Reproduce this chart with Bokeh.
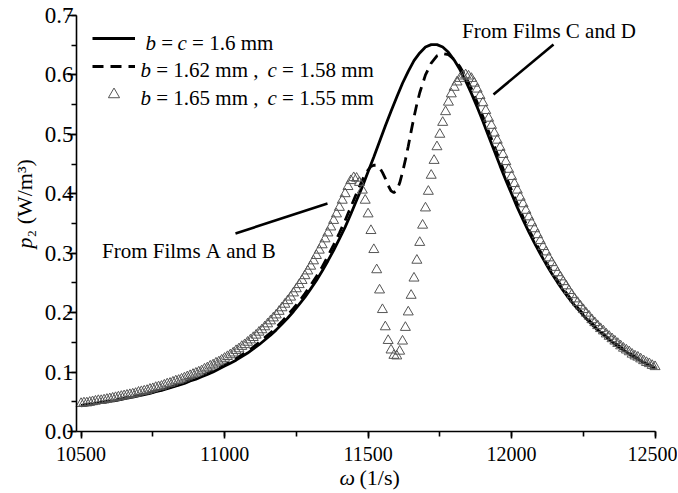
import math
from bokeh.plotting import figure
from bokeh.models import (Label, Legend, LegendItem, SingleIntervalTicker,
                          PrintfTickFormatter, Range1d)
from bokeh.embed import file_html
from bokeh.resources import INLINE

# ---------------- data ----------------
omega_solid = list(range(10500, 12501, 20))
p_solid = [
    0.043, 0.045, 0.046, 0.048, 0.049, 0.051, 0.052, 0.054, 0.056, 0.058,
    0.060, 0.062, 0.064, 0.067, 0.069, 0.072, 0.075, 0.078, 0.081, 0.085,
    0.088, 0.092, 0.096, 0.100, 0.105, 0.110, 0.115, 0.120, 0.126, 0.132,
    0.139, 0.146, 0.154, 0.162, 0.171, 0.181, 0.191, 0.202, 0.214, 0.226,
    0.240, 0.254, 0.270, 0.287, 0.305, 0.324, 0.344, 0.366, 0.389, 0.412,
    0.437, 0.462, 0.488, 0.514, 0.539, 0.563, 0.586, 0.606, 0.624, 0.637,
    0.647, 0.651, 0.651, 0.647, 0.638, 0.625, 0.609, 0.590, 0.569, 0.546,
    0.522, 0.497, 0.472, 0.447, 0.423, 0.400, 0.377, 0.356, 0.336, 0.317,
    0.299, 0.282, 0.266, 0.251, 0.237, 0.224, 0.212, 0.201, 0.190, 0.180,
    0.171, 0.163, 0.155, 0.147, 0.140, 0.134, 0.127, 0.122, 0.116, 0.111,
    0.106,
]

omega_dash = (list(range(10500, 11480, 20)) + list(range(11480, 11680, 10))
              + list(range(11680, 12501, 20)))
p_dash = [
    0.044, 0.045, 0.047, 0.048, 0.050, 0.051, 0.053, 0.055, 0.057, 0.059,
    0.061, 0.063, 0.065, 0.068, 0.070, 0.073, 0.076, 0.079, 0.083, 0.086,
    0.090, 0.094, 0.098, 0.102, 0.107, 0.112, 0.117, 0.123, 0.129, 0.135,
    0.142, 0.150, 0.158, 0.166, 0.175, 0.185, 0.196, 0.207, 0.219, 0.232,
    0.246, 0.261, 0.277, 0.295, 0.314, 0.334, 0.355, 0.378, 0.401,
    0.423, 0.433, 0.440, 0.446, 0.448, 0.448, 0.444, 0.436, 0.426, 0.414,
    0.405, 0.402, 0.406, 0.418, 0.436, 0.457, 0.480, 0.505, 0.529, 0.551,
    0.570, 0.600, 0.620, 0.632, 0.636, 0.634, 0.626, 0.614, 0.597, 0.577,
    0.554, 0.530, 0.505, 0.480, 0.455, 0.430, 0.406, 0.383, 0.361, 0.340,
    0.321, 0.303, 0.285, 0.269, 0.254, 0.240, 0.227, 0.214, 0.203, 0.192,
    0.182, 0.173, 0.164, 0.156, 0.149, 0.142, 0.135, 0.129, 0.123, 0.117,
    0.112, 0.107,
]

omega_tri = list(range(10500, 12501, 10))
p_tri = [
    0.047, 0.048, 0.048, 0.049, 0.050, 0.051, 0.052, 0.052, 0.053, 0.054,
    0.055, 0.056, 0.057, 0.058, 0.059, 0.060, 0.061, 0.062, 0.063, 0.064,
    0.066, 0.067, 0.068, 0.069, 0.071, 0.072, 0.074, 0.075, 0.076, 0.078,
    0.080, 0.081, 0.083, 0.085, 0.086, 0.088, 0.090, 0.092, 0.094, 0.096,
    0.098, 0.100, 0.102, 0.105, 0.107, 0.110, 0.112, 0.115, 0.117, 0.120,
    0.123, 0.126, 0.129, 0.132, 0.136, 0.139, 0.143, 0.146, 0.150, 0.154,
    0.158, 0.162, 0.167, 0.171, 0.176, 0.181, 0.186, 0.191, 0.196, 0.202,
    0.208, 0.214, 0.220, 0.226, 0.233, 0.240, 0.247, 0.254, 0.262, 0.270,
    0.278, 0.287, 0.296, 0.305, 0.314, 0.324, 0.334, 0.344, 0.355, 0.366,
    0.377, 0.389, 0.400, 0.412, 0.422, 0.427, 0.426, 0.419, 0.406, 0.389,
    0.366, 0.338, 0.306, 0.272, 0.238, 0.205, 0.176, 0.153, 0.137, 0.128,
    0.127, 0.135, 0.152, 0.175, 0.201, 0.229, 0.258, 0.288, 0.318, 0.347,
    0.376, 0.404, 0.431, 0.456, 0.479, 0.500, 0.520, 0.538, 0.554, 0.568,
    0.579, 0.588, 0.594, 0.598, 0.600, 0.598, 0.594, 0.586, 0.576, 0.565,
    0.553, 0.540, 0.527, 0.515, 0.502, 0.490, 0.478, 0.466, 0.454, 0.441,
    0.429, 0.417, 0.406, 0.394, 0.383, 0.372, 0.361, 0.351, 0.341, 0.331,
    0.321, 0.311, 0.302, 0.292, 0.284, 0.276, 0.267, 0.260, 0.252, 0.245,
    0.237, 0.230, 0.223, 0.217, 0.211, 0.205, 0.199, 0.194, 0.188, 0.183,
    0.178, 0.173, 0.169, 0.164, 0.160, 0.156, 0.152, 0.148, 0.144, 0.140,
    0.137, 0.134, 0.130, 0.127, 0.125, 0.122, 0.119, 0.116, 0.114, 0.111,
    0.109,
]

# ---------------- layout (canvas pixels <-> data) ----------------
FONT = "Liberation Serif"
W, H = 677, 492
AX_X0, AX_X1 = 10484, 12505      # data x at axis-left / right pixel
AX_Y0, AX_Y1 = 0.0, 0.7
PL, PR, PT, PB = 76, 656, 15, 431  # pixel positions of those values
KX = (AX_X1 - AX_X0) / (PR - PL)
KY = (AX_Y1 - AX_Y0) / (PB - PT)


def dx(px):
    return AX_X0 + (px - PL) * KX


def dy(py):
    return AX_Y0 + (PB - py) * KY


p = figure(width=W, height=H, output_backend="svg", toolbar_location=None,
           x_range=Range1d(dx(0), dx(W)), y_range=Range1d(dy(H), dy(0)),
           min_border=0, min_border_left=0, min_border_right=0,
           min_border_top=0, min_border_bottom=0)
p.xgrid.visible = False
p.ygrid.visible = False
p.outline_line_color = None
p.background_fill_color = "white"
p.border_fill_color = "white"

xa = p.xaxis[0]
ya = p.yaxis[0]
xa.fixed_location = AX_Y0
ya.fixed_location = AX_X0
xa.bounds = (AX_X0, 12500)
ya.bounds = (AX_Y0, AX_Y1 + 0.0001)
xa.ticker = SingleIntervalTicker(interval=500, num_minor_ticks=2)
ya.ticker = SingleIntervalTicker(interval=0.1, num_minor_ticks=2)
xa.formatter = PrintfTickFormatter(format="%d")
ya.formatter = PrintfTickFormatter(format="%.1f")
for ax in (xa, ya):
    ax.axis_line_width = 1.6
    ax.axis_line_color = "black"
    ax.major_tick_line_width = 1.6
    ax.minor_tick_line_width = 1.6
    ax.major_tick_line_color = "black"
    ax.minor_tick_line_color = "black"
    ax.major_tick_in = 0
    ax.minor_tick_in = 0
    ax.minor_tick_out = 5
    ax.major_label_text_font = FONT
    ax.major_label_text_color = "black"
xa.major_tick_out = 7
xa.major_label_standoff = 8
xa.major_label_text_font_size = "20px"
ya.major_tick_out = 9
ya.major_label_standoff = -6
ya.major_label_text_font_size = "23px"

r_solid = p.line(omega_solid, p_solid, line_color="black", line_width=2.8)
r_dash = p.line(omega_dash, p_dash, line_color="black", line_width=2.8,
                line_dash="11 7")
r_tri = p.scatter(omega_tri, p_tri, marker="triangle", size=10,
                  fill_color=None, line_color="#555555", line_width=1)

# legend glyphs (texts are drawn below so that b and c can be italic)
legend = Legend(items=[LegendItem(label=" ", renderers=[r_solid]),
                       LegendItem(label=" ", renderers=[r_dash]),
                       LegendItem(label=" ", renderers=[r_tri])],
                location=(92, H - 108), glyph_width=43, glyph_height=28,
                label_width=0, label_standoff=0, spacing=0, padding=0,
                margin=0, border_line_color=None, background_fill_alpha=0,
                label_text_font_size="1px")
p.add_layout(legend)

NB = "\u00a0"


def txt(text, px, py, style="normal", size="21px", align="left",
        baseline="middle", angle=0.0):
    p.add_layout(Label(x=dx(px), y=dy(py), text=text.replace(" ", NB),
                       text_font=FONT, text_font_style=style,
                       text_font_size=size, text_color="black",
                       text_align=align, text_baseline=baseline,
                       angle=angle))


# legend texts
txt("b", 145, 42, style="italic")
txt(" = ", 155.5, 42)
txt("c", 177, 42, style="italic")
txt(" = 1.6 mm", 186.3, 42)

txt("b", 140, 69.5, style="italic")
txt(" = 1.62 mm , ", 150.5, 69.5)
txt("c", 267, 69.5, style="italic")
txt(" = 1.58 mm", 276.3, 69.5)

txt("b", 140, 97, style="italic")
txt(" = 1.65 mm , ", 150.5, 97)
txt("c", 267, 97, style="italic")
txt(" = 1.55 mm", 276.3, 97)

# annotations
txt("From Films C and D", 461.5, 30)
txt("From Films A and B", 101.5, 250)
p.segment(x0=[dx(553), dx(235)], y0=[dy(44), dy(233)],
          x1=[dx(493), dx(327)], y1=[dy(94), dy(203)],
          line_color="black", line_width=2.6)

# axis titles
txt("p", 24, 248, style="italic", size="22px", baseline="alphabetic",
    angle=math.pi / 2)
txt("\u2082 (W/m\u00b3)", 24, 237, size="22px", baseline="alphabetic",
    angle=math.pi / 2)
txt("\u03c9", 339, 477, style="italic", size="22px", baseline="alphabetic")
txt(" (1/s)", 353.5, 477, size="22px", baseline="alphabetic")

open("out.html", "w").write(file_html(p, INLINE))
